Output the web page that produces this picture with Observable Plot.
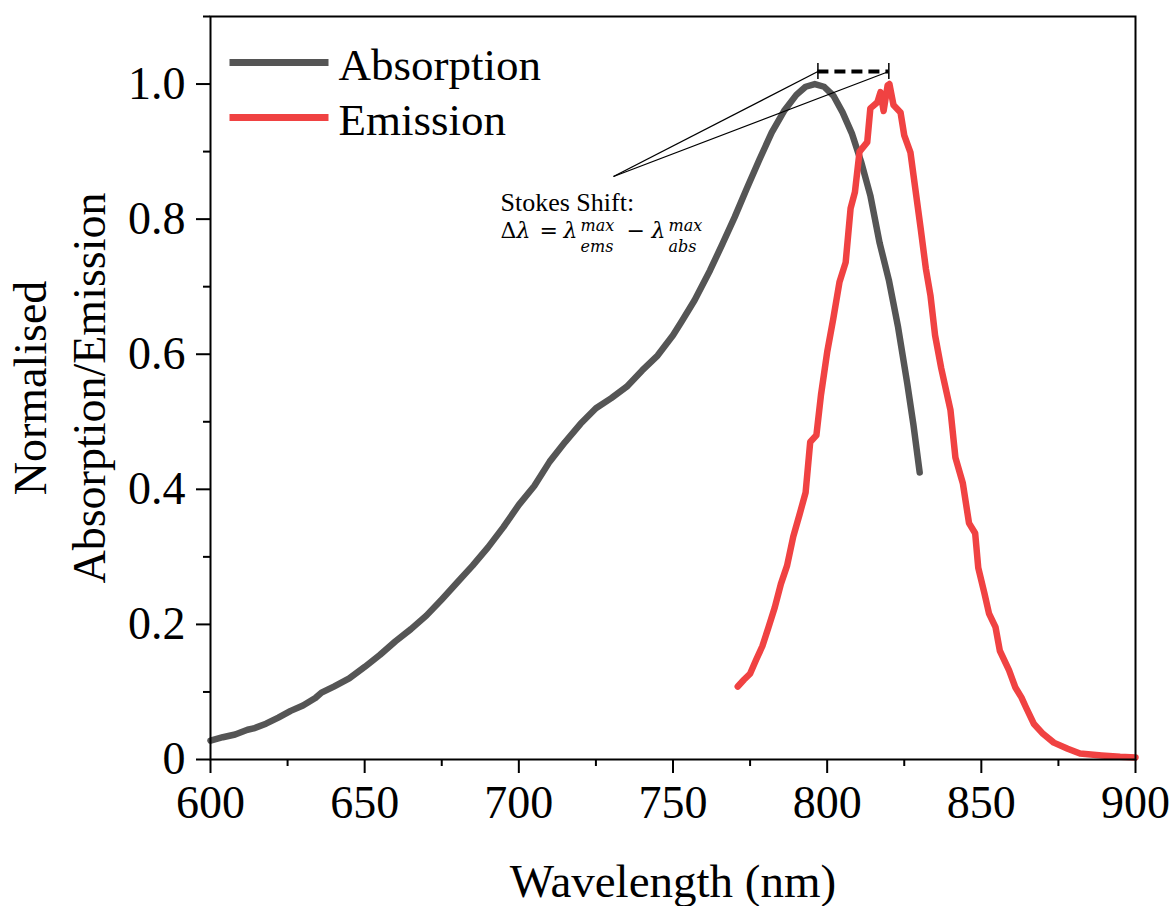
<!DOCTYPE html>
<html><head><meta charset="utf-8">
<script src="https://cdn.jsdelivr.net/npm/d3@7"></script>
<script src="https://cdn.jsdelivr.net/npm/@observablehq/plot@0.6"></script>
<style>body{margin:0;background:#fff} #chart svg{display:block}</style>
</head><body><div id="chart"></div>
<script>
// ---- data ----
const seriesNames = ["Absorption", "Emission"];
const seriesColors = ["#555555", "#f04242"];

const absWavelength = [600,604,608,612,614,618,622,626,630,634,636,640,645,650,655,660,665,670,675,680,685,690,695,700,705,710,715,720,725,730,735,740,745,750,753,757,762,766,770,774,778,782,786,790,793,796,799,802,805,808,811,814,817,820,823,826,828,830];
const absValue = [0.028,0.033,0.037,0.044,0.046,0.053,0.062,0.072,0.080,0.091,0.099,0.108,0.120,0.137,0.155,0.175,0.193,0.213,0.237,0.262,0.287,0.314,0.344,0.377,0.405,0.441,0.470,0.497,0.520,0.535,0.552,0.576,0.598,0.628,0.650,0.680,0.724,0.763,0.803,0.846,0.888,0.928,0.960,0.984,0.996,1.000,0.996,0.983,0.958,0.927,0.885,0.835,0.765,0.710,0.640,0.556,0.495,0.425];

const emsWavelength = [771,773,775,777,779,781,783,785,787,789,791,793,794.5,796.5,798,800,802,804,806,807.6,809,810.5,813,814,816.3,817.3,818.3,819.6,820.2,821.5,823.8,825,827,828,830.3,832,833.5,835,837,840,841.6,844,846,848,849,851,852.5,854.6,856,859,861,863,864.5,867,870,873.5,878,882,889,895,900];
const emsValue = [0.108,0.118,0.127,0.148,0.168,0.196,0.225,0.260,0.287,0.330,0.362,0.395,0.470,0.480,0.540,0.603,0.653,0.707,0.736,0.816,0.840,0.900,0.914,0.964,0.973,0.988,0.960,0.998,1.000,0.969,0.958,0.924,0.899,0.865,0.787,0.727,0.687,0.628,0.579,0.517,0.447,0.409,0.350,0.335,0.284,0.246,0.216,0.196,0.161,0.132,0.107,0.092,0.077,0.053,0.038,0.025,0.016,0.009,0.006,0.004,0.003];

const xTicks = [600,650,700,750,800,850,900];
const xMinorTicks = [625,675,725,775,825,875];
const yTicks = [0,0.2,0.4,0.6,0.8,1.0];
const yTickLabels = ["0","0.2","0.4","0.6","0.8","1.0"];
const yMinorTicks = [0.1,0.3,0.5,0.7,0.9,1.1];

const absPeak = 797;   // nm, absorption maximum
const emsPeak = 820;   // nm, emission maximum

const xLabel = "Wavelength (nm)";
const yLabelLines = ["Normalised", "Absorption/Emission"];
const annotationTitle = "Stokes Shift:";

// ---- layout ----
const W = 1175, H = 906;
const mL = 210, mR = 40, mT = 16, mB = 147;
const xDomain = [600, 900], yDomain = [0, 1.1];
const xs = Plot.scale({x: {domain: xDomain, range: [mL, W - mR]}});
const ys = Plot.scale({y: {domain: yDomain, range: [H - mB, mT]}});

const absData = absWavelength.map((w, i) => ({w, v: absValue[i]}));
const emsData = emsWavelength.map((w, i) => ({w, v: emsValue[i]}));

// legend (pixel layout converted through the scales)
const legend = seriesNames.map((name, i) => ({
  name, color: seriesColors[i],
  x1: xs.invert(229), x2: xs.invert(328), y: ys.invert(62 + i * 55),
  dy: 49 + i * 55
}));

const bracketY = ys.invert(71);
const leaderFrom = {x: xs.invert(613), y: ys.invert(176)};
const leaders = [absPeak, emsPeak].map(p => ({x1: leaderFrom.x, y1: leaderFrom.y, x2: p, y2: bracketY}));

const serif = "Liberation Serif, Times New Roman, serif";
const math = "DejaVu Serif, serif";
// formula pieces: text, left px, baseline px, size, italic
const formula = [
  {t: "Δ", x: 500, b: 237, s: 22, i: false},
  {t: "λ", x: 516, b: 237, s: 22, i: true},
  {t: "=", x: 539, b: 237, s: 22, i: false},
  {t: "λ", x: 563, b: 237, s: 22, i: true},
  {t: "max", x: 580, b: 230, s: 16, i: true},
  {t: "ems", x: 580, b: 251, s: 16, i: true},
  {t: "−", x: 626, b: 237, s: 22, i: false},
  {t: "λ", x: 651, b: 237, s: 22, i: true},
  {t: "max", x: 668, b: 230, s: 16, i: true},
  {t: "abs", x: 668, b: 251, s: 16, i: true}
];

const marks = [
  Plot.line(absData, {x: "w", y: "v", stroke: seriesColors[0], strokeWidth: 6.5, strokeLinejoin: "round"}),
  Plot.line(emsData, {x: "w", y: "v", stroke: seriesColors[1], strokeWidth: 6.5, strokeLinejoin: "round"}),
  Plot.frame({stroke: "black", strokeWidth: 2}),
  Plot.axisX({ticks: xTicks, tickSize: 14, tickPadding: 12, strokeWidth: 2, label: null, fontSize: 46, tickFormat: d => String(d)}),
  Plot.axisX({ticks: xMinorTicks, tickSize: 7, strokeWidth: 2, fill: "none", label: null}),
  Plot.axisY({ticks: yTicks, tickSize: 14, tickPadding: 11, strokeWidth: 2, label: null, fontSize: 46, tickFormat: d => yTickLabels[yTicks.indexOf(d)]}),
  Plot.axisY({ticks: yMinorTicks, tickSize: 7, strokeWidth: 2, fill: "none", label: null}),
  Plot.text([xLabel], {frameAnchor: "bottom", lineAnchor: "top", dy: 104, fontSize: 47, fill: "black"}),
  Plot.text([yLabelLines[0]], {frameAnchor: "left", textAnchor: "middle", rotate: -90, lineAnchor: "middle", dx: -179, fontSize: 46, fill: "black"}),
  Plot.text([yLabelLines[1]], {frameAnchor: "left", textAnchor: "middle", rotate: -90, lineAnchor: "middle", dx: -120, fontSize: 46, fill: "black"}),
  // legend
  Plot.link(legend, {x1: "x1", x2: "x2", y1: "y", y2: "y", stroke: "color", strokeWidth: 7}),
  ...legend.map(d => Plot.text([d.name], {frameAnchor: "top-left", textAnchor: "start", lineAnchor: "middle", dx: 128, dy: d.dy, fontSize: 45, fill: "black"})),
  // Stokes shift annotation
  Plot.link(leaders, {x1: "x1", y1: "y1", x2: "x2", y2: "y2", stroke: "black", strokeWidth: 1.3}),
  Plot.ruleY([bracketY], {x1: absPeak, x2: emsPeak, stroke: "black", strokeWidth: 4, strokeDasharray: "11,6"}),
  Plot.ruleX([absPeak, emsPeak], {y1: ys.invert(63), y2: ys.invert(79), stroke: "black", strokeWidth: 1.5}),
  Plot.text([annotationTitle], {frameAnchor: "top-left", textAnchor: "start", lineAnchor: "top", dx: 290, dy: 210 - mT - 0.71 * 26, fontSize: 26, fill: "black", fontFamily: serif}),
  ...formula.map(p => Plot.text([p.t], {frameAnchor: "top-left", textAnchor: "start", lineAnchor: "top", dx: p.x - mL, dy: p.b - mT - 0.71 * p.s, fontSize: p.s, fill: "black", fontFamily: math, fontStyle: p.i ? "italic" : "normal"}))
];

const chart = Plot.plot({
  width: W, height: H,
  marginLeft: mL, marginRight: mR, marginTop: mT, marginBottom: mB,
  x: {domain: xDomain},
  y: {domain: yDomain},
  style: {fontFamily: serif, fontSize: "46px", color: "black", background: "white", overflow: "visible"},
  marks
});
document.getElementById("chart").appendChild(chart);
</script>
</body></html>
